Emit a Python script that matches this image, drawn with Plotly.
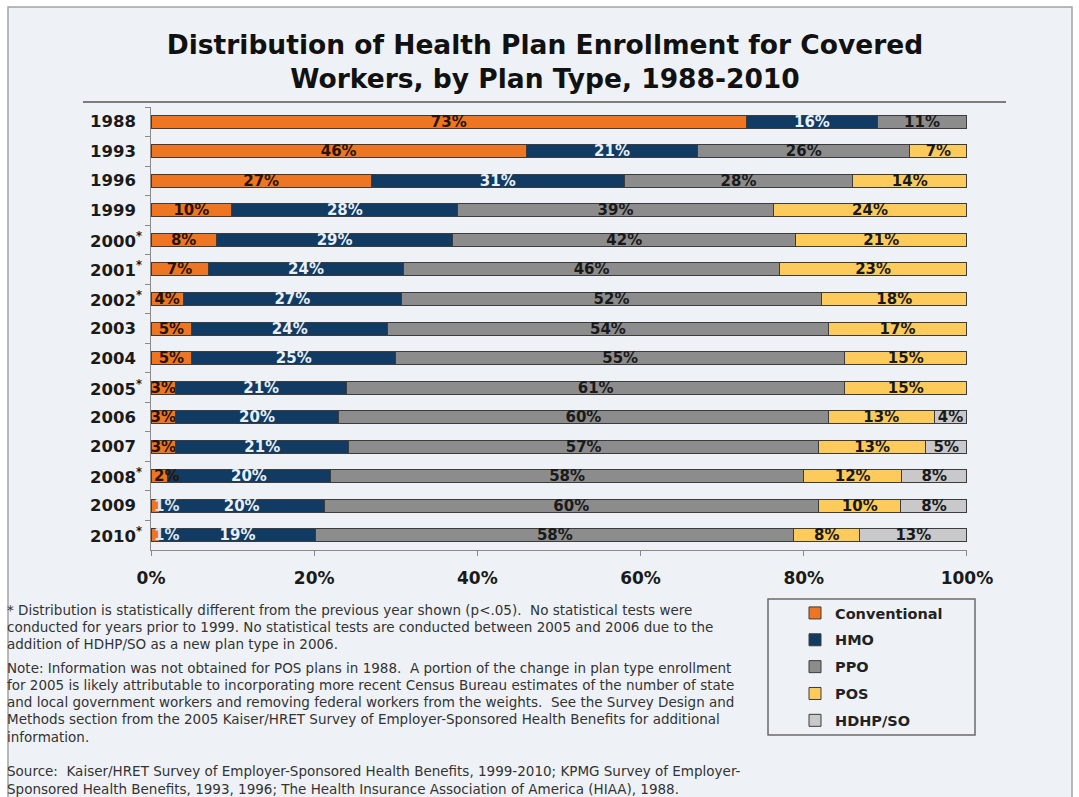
import plotly.graph_objects as go

years = ["1988", "1993", "1996", "1999", "2000", "2001", "2002", "2003",
         "2004", "2005", "2006", "2007", "2008", "2009", "2010"]
starred = [False, False, False, False, True, True, True, False,
           False, True, False, False, True, False, True]

conventional = [73, 46, 27, 10, 8, 7, 4, 5, 5, 3, 3, 3, 2, 1, 1]
hmo = [16, 21, 31, 28, 29, 24, 27, 24, 25, 21, 20, 21, 20, 20, 19]
ppo = [11, 26, 28, 39, 42, 46, 52, 54, 55, 61, 60, 57, 58, 60, 58]
pos = [None, 7, 14, 24, 21, 23, 18, 17, 15, 15, 13, 13, 12, 10, 8]
hdhp = [None, None, None, None, None, None, None, None, None, None, 4, 5, 8, 8, 13]

series = [
    ("Conventional", conventional, "#EE7623"),
    ("HMO", hmo, "#123B63"),
    ("PPO", ppo, "#8C8C8C"),
    ("POS", pos, "#FDCB5C"),
    ("HDHP/SO", hdhp, "#C9C9CB"),
]

x_ticks = [0, 20, 40, 60, 80, 100]
x_ticklabels = ["0%", "20%", "40%", "60%", "80%", "100%"]

title_text = ("Distribution of Health Plan Enrollment for Covered<br>"
              "Workers, by Plan Type, 1988-2010")

footnote_lines = [
    "* Distribution is statistically different from the previous year shown (p&lt;.05).  No statistical tests were",
    "conducted for years prior to 1999. No statistical tests are conducted between 2005 and 2006 due to the",
    "addition of HDHP/SO as a new plan type in 2006.",
    "Note: Information was not obtained for POS plans in 1988.  A portion of the change in plan type enrollment",
    "for 2005 is likely attributable to incorporating more recent Census Bureau estimates of the number of state",
    "and local government workers and removing federal workers from the weights.  See the Survey Design and",
    "Methods section from the 2005 Kaiser/HRET Survey of Employer-Sponsored Health Benefits for additional",
    "information.",
    "Source:  Kaiser/HRET Survey of Employer-Sponsored Health Benefits, 1999-2010; KPMG Survey of Employer-",
    "Sponsored Health Benefits, 1993, 1996; The Health Insurance Association of America (HIAA), 1988.",
]
footnote_y = [610, 627, 644, 668, 685, 702, 719, 737, 771, 789]

# ---- layout geometry (pixels) ----
W, H = 1079, 797
L, R, T, B = 151, 112, 107, 247
PW, PH = W - L - R, H - T - B


def px(x):
    return (x - L) / PW


def py(y):
    return (H - B - y) / PH


BOLD = "DejaVu Sans"
fig = go.Figure()

label_colors = {
    "Conventional": ["#2a1400"] * 13 + ["#dbe6f2", "#dbe6f2"],
    "HMO": ["#e9f0fa"] * len(years),
    "PPO": ["#1a1a1a"] * len(years),
    "POS": ["#1a1a1a"] * len(years),
    "HDHP/SO": ["#1a1a1a"] * len(years),
}

for name, vals, color in series:
    small = [v is not None and v <= 2 for v in vals]
    fig.add_trace(go.Bar(
        name=name,
        y=years,
        x=vals,
        orientation="h",
        marker=dict(color=color, line=dict(color="#3c3c3c", width=1)),
        text=[f"{v}%" if (v is not None and not s) else "" for v, s in zip(vals, small)],
        textposition="inside",
        insidetextanchor="middle",
        constraintext="none",
        textangle=0,
        cliponaxis=False,
        textfont=dict(family=BOLD, size=15, color=label_colors[name], weight="bold"),
        legendgroup=name,
        hoverinfo="skip",
    ))
    # labels of very thin segments sit just right of the axis, as in the original
    for i, (v, s) in enumerate(zip(vals, small)):
        if s:
            fig.add_annotation(
                x=0, y=i, xref="x", yref="y", text=f"{v}%", showarrow=False,
                xanchor="left", yanchor="middle", xshift=1,
                font=dict(family=BOLD, size=15, color=label_colors[name][i],
                          weight="bold"),
            )

# year labels, left aligned (placed on category index)
for i, (yr, st) in enumerate(zip(years, starred)):
    fig.add_annotation(
        x=px(88), xref="paper", y=i, yref="y",
        text=yr + ("<sup>*</sup>" if st else ""),
        showarrow=False, xanchor="left", yanchor="middle",
        font=dict(family=BOLD, size=16.5, color="#1a1a1a", weight="bold"),
    )

for line, yy in zip(footnote_lines, footnote_y):
    fig.add_annotation(
        x=px(5), xref="paper", y=py(yy), yref="paper",
        text=line, showarrow=False, xanchor="left", yanchor="middle",
        font=dict(family="DejaVu Sans", size=13.5, color="#333333"),
    )

shapes = [
    dict(type="rect", xref="paper", yref="paper",
         x0=px(8), x1=px(1072), y0=py(810), y1=py(7),
         fillcolor="#eef2f6", line=dict(color="#a3a3a3", width=1.5), layer="below"),
    dict(type="line", xref="paper", yref="paper",
         x0=px(83), x1=px(1006), y0=py(102), y1=py(102),
         line=dict(color="#555555", width=1.5)),
    dict(type="rect", xref="paper", yref="paper",
         x0=px(768), x1=px(975), y0=py(735), y1=py(599),
         line=dict(color="#6a6a6a", width=1.5)),
]

fig.update_layout(
    width=W, height=H,
    margin=dict(l=L, r=R, t=T, b=B, pad=0),
    paper_bgcolor="white",
    plot_bgcolor="rgba(0,0,0,0)",
    barmode="stack",
    barnorm="percent",
    bargap=0.56,
    shapes=shapes,
    title=dict(
        text=title_text,
        x=545 / W, xref="container", xanchor="center",
        y=1 - 54 / H, yref="container", yanchor="top",
        font=dict(family=BOLD, size=26.5, color="#111111", weight="bold"),
    ),
    xaxis=dict(
        range=[0, 100.01], tickvals=x_ticks, ticktext=x_ticklabels,
        showgrid=False, zeroline=False,
        showline=True, linecolor="#8a8a8a", linewidth=1,
        ticks="outside", ticklen=5, tickcolor="#8a8a8a",
        tickfont=dict(family=BOLD, size=17, color="#1a1a1a", weight="bold"),
        ticklabelstandoff=8,
    ),
    yaxis=dict(
        type="category",
        categoryorder="array", categoryarray=years,
        range=[len(years) - 0.5, -0.5], autorange=False,
        showticklabels=False, showgrid=False, zeroline=False,
        showline=True, linecolor="#8a8a8a", linewidth=1,
        ticks="outside", ticklen=5, tickcolor="#8a8a8a", tickson="boundaries",
    ),
    legend=dict(
        x=px(795), y=py(597), xref="paper", yref="paper",
        xanchor="left", yanchor="top",
        traceorder="grouped", tracegroupgap=5,
        bgcolor="rgba(0,0,0,0)", borderwidth=0,
        font=dict(family=BOLD, size=14.5, color="#222222", weight="bold"),
    ),
    showlegend=True,
)

fig.write_html(
    "out.html",
    config={"displayModeBar": False},
    post_script="document.body.style.margin='0';document.body.style.overflow='hidden';",
)
